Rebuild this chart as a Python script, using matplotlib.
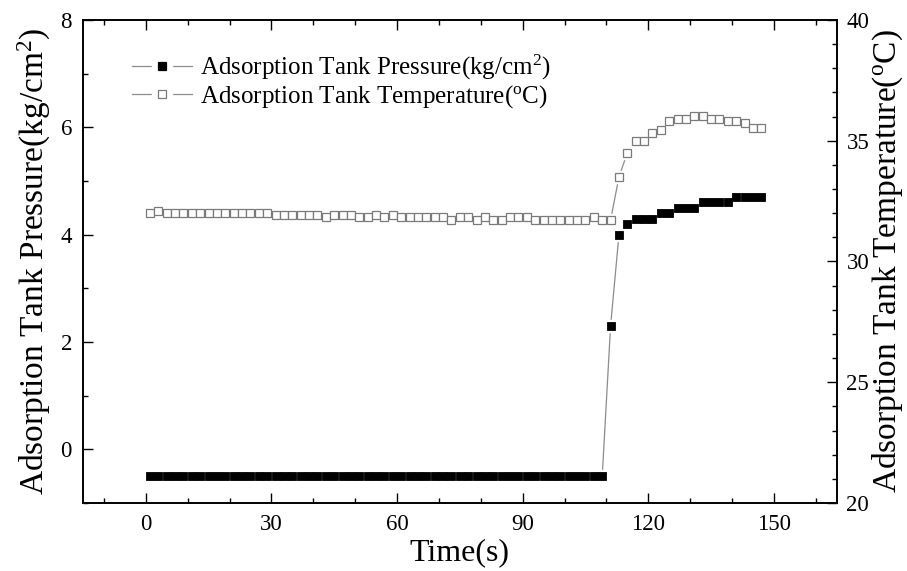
import matplotlib
matplotlib.use("Agg")
import matplotlib.pyplot as plt
from matplotlib.lines import Line2D
from matplotlib.ticker import MultipleLocator

plt.rcParams["font.family"] = ["Liberation Serif", "DejaVu Serif"]
plt.rcParams["mathtext.fontset"] = "custom"
plt.rcParams["mathtext.rm"] = "Liberation Serif"
plt.rcParams["mathtext.it"] = "Liberation Serif:italic"

# Data
time_s = [1, 3, 5, 7, 9, 11, 13, 15, 17, 19, 21, 23, 25, 27, 29, 31, 33, 35, 37,
          39, 41, 43, 45, 47, 49, 51, 53, 55, 57, 59, 61, 63, 65, 67, 69, 71, 73,
          75, 77, 79, 81, 83, 85, 87, 89, 91, 93, 95, 97, 99, 101, 103, 105, 107,
          109, 111, 113, 115, 117, 119, 121, 123, 125, 127, 129, 131, 133, 135,
          137, 139, 141, 143, 145, 147]

pressure = [-0.5, -0.5, -0.5, -0.5, -0.5, -0.5, -0.5, -0.5, -0.5, -0.5, -0.5,
            -0.5, -0.5, -0.5, -0.5, -0.5, -0.5, -0.5, -0.5, -0.5, -0.5, -0.5,
            -0.5, -0.5, -0.5, -0.5, -0.5, -0.5, -0.5, -0.5, -0.5, -0.5, -0.5,
            -0.5, -0.5, -0.5, -0.5, -0.5, -0.5, -0.5, -0.5, -0.5, -0.5, -0.5,
            -0.5, -0.5, -0.5, -0.5, -0.5, -0.5, -0.5, -0.5, -0.5, -0.5, -0.5,
            2.3, 4.0, 4.2, 4.3, 4.3, 4.3, 4.4, 4.4, 4.5, 4.5, 4.5, 4.6, 4.6,
            4.6, 4.6, 4.7, 4.7, 4.7, 4.7]

temperature = [32.0, 32.1, 32.0, 32.0, 32.0, 32.0, 32.0, 32.0, 32.0, 32.0, 32.0,
               32.0, 32.0, 32.0, 32.0, 31.93, 31.93, 31.93, 31.93, 31.93, 31.93,
               31.86, 31.93, 31.93, 31.93, 31.86, 31.86, 31.93, 31.86, 31.93,
               31.86, 31.86, 31.86, 31.86, 31.86, 31.86, 31.72, 31.86, 31.86,
               31.72, 31.86, 31.72, 31.72, 31.86, 31.86, 31.86, 31.72, 31.72,
               31.72, 31.72, 31.72, 31.72, 31.72, 31.86, 31.72, 31.72,
               33.5, 34.5, 35.0, 35.0, 35.33, 35.45, 35.82, 35.9, 35.9, 36.04,
               36.04, 35.9, 35.9, 35.82, 35.82, 35.72, 35.52, 35.52]

line_grey = "#8c8c8c"
mark_grey = "#7a7a7a"

fig = plt.figure(figsize=(9.07, 5.71), dpi=100)
ax = fig.add_axes([0.0915, 0.1191, 0.831, 0.8459])
ax2 = ax.twinx()

# pressure: line, white gap round each marker, then the markers
ax.plot(time_s, pressure, color=line_grey, lw=0.9, zorder=2)
ax.plot(time_s, pressure, ls="none", marker="s", ms=8.5,
        mfc="white", mec="white", zorder=3)
ax.plot(time_s, pressure, ls="none", marker="s", ms=5.2,
        mfc="black", mec="black", mew=0.6, zorder=4)

ax2.plot(time_s, temperature, color=line_grey, lw=0.9, zorder=2)
ax2.plot(time_s, temperature, ls="none", marker="s", ms=8.5,
         mfc="white", mec="white", zorder=3)
ax2.plot(time_s, temperature, ls="none", marker="s", ms=5.2,
         mfc="white", mec=mark_grey, mew=0.9, zorder=4)

ax.set_xlim(-15, 165)
ax.set_ylim(-1, 8)
ax2.set_ylim(20, 40)

ax.xaxis.set_major_locator(MultipleLocator(30))
ax.xaxis.set_minor_locator(MultipleLocator(10))
ax.yaxis.set_major_locator(MultipleLocator(2))
ax.yaxis.set_minor_locator(MultipleLocator(1))
ax2.yaxis.set_major_locator(MultipleLocator(5))
ax2.yaxis.set_minor_locator(MultipleLocator(1))
ax.set_xticks([0, 30, 60, 90, 120, 150])
ax.set_yticks([0, 2, 4, 6, 8])

ax.tick_params(axis="x", which="both", direction="in", top=True, labelsize=16.5, pad=8)
ax.tick_params(axis="y", which="both", direction="in", labelsize=16.5, pad=8)
ax2.tick_params(axis="y", which="both", direction="in", labelsize=16.5, pad=7)
for a in (ax, ax2):
    a.tick_params(which="major", length=7, width=1)
    a.tick_params(which="minor", length=3.5, width=1)
    for s in a.spines.values():
        s.set_linewidth(1.2)

ax.set_xlabel("Time(s)", fontsize=23, labelpad=2)
ax.set_ylabel("Adsorption Tank Pressure(kg/cm$^2$)", fontsize=24, labelpad=5)
ax2.set_ylabel("Adsorption Tank Temperature($^{\\rm o}$C)", fontsize=24, labelpad=1)

# legend handles: grey line broken on both sides of the symbol
def legend_handle(face, edge):
    seg = Line2D([], [], color=line_grey, lw=0.9)
    gap = Line2D([], [], ls="none", marker="s", ms=15, mfc="white", mec="white")
    mark = Line2D([], [], ls="none", marker="s", ms=5.2, mfc=face, mec=edge, mew=0.9)
    return (seg, gap, mark)

ax.legend([legend_handle("black", "black"), legend_handle("white", mark_grey)],
          ["Adsorption Tank Pressure(kg/cm$^2$)",
           "Adsorption Tank Temperature($^{\\rm o}$C)"],
          loc="upper left", bbox_to_anchor=(0.052, 0.952), frameon=False,
          fontsize=18, handlelength=2.4, handletextpad=0.3,
          labelspacing=0.05, borderaxespad=0)

fig.savefig("out.png", dpi=100)
